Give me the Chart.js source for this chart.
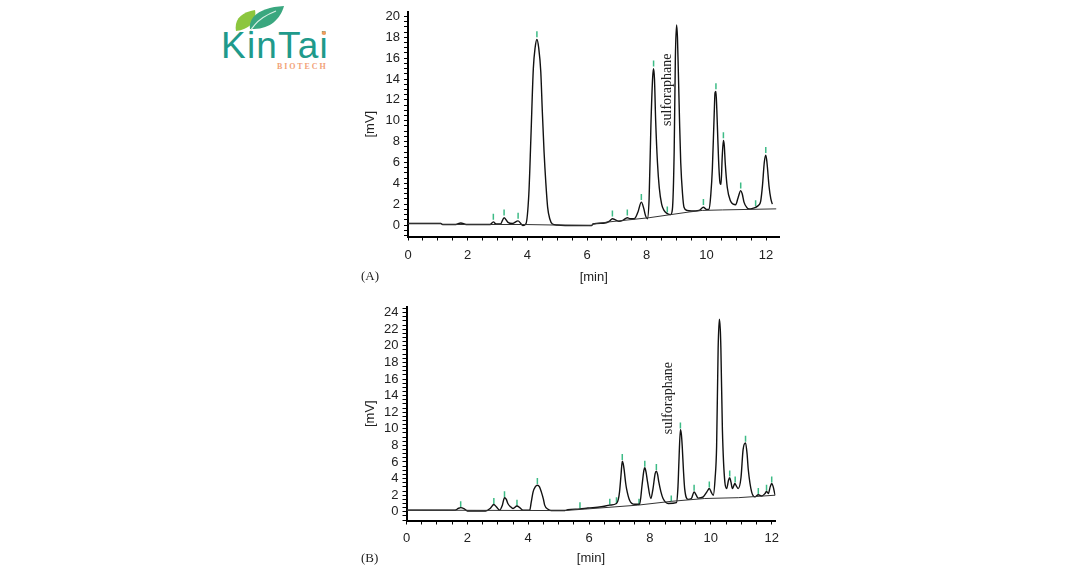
<!DOCTYPE html>
<html>
<head>
<meta charset="utf-8">
<script src="https://cdn.jsdelivr.net/npm/chart.js@4.4.1/dist/chart.umd.min.js"></script>
<style>
  html, body { margin: 0; padding: 0; background: #fff; }
  #page { position: relative; width: 1080px; height: 567px; overflow: hidden; }
  .box { position: absolute; left: 355px; width: 430px; }
  #boxA { top: 0; height: 290px; }
  #boxB { top: 295px; height: 272px; }
  .tag { position: absolute; left: 361px; font: 13px "Liberation Serif", serif; color: #222; }
  #logo { position: absolute; left: 218px; top: 4px; width: 130px; height: 72px; }
  #logo .name { position: absolute; left: 3px; top: 21px; font: 37px "Liberation Sans", Arial, sans-serif; color: #1f9a8b; letter-spacing: 1.2px; }
  #logo .sub { position: absolute; left: 59px; top: 58px; font: bold 8px "Liberation Serif", serif; color: #f2a277; letter-spacing: 1.9px; }
  #logo .dot { position: absolute; left: 104px; top: 27px; width: 4px; height: 4px; border-radius: 2px; background: #f39a5b; }
</style>
</head>
<body>
<div id="page">
  <div id="logo">
    <svg width="70" height="32" style="position:absolute;left:16px;top:0">
      <path d="M2 27 C0 16 7 8 21 6 C23 16 17 25 2 27 Z" fill="#8cc63e"/>
      <path d="M16 25 C14 12 28 3 50 2 C46 16 35 26 16 25 Z" fill="#3aa77f"/>
      <path d="M15 30 C19 20 29 12 42 7" stroke="#d8efe4" stroke-width="1.2" fill="none"/>
    </svg>
    <div class="name">KinTai</div>
    <div class="dot"></div>
    <div class="sub">BIOTECH</div>
  </div>
  <div class="box" id="boxA"><canvas id="chartA"></canvas></div>
  <div class="box" id="boxB"><canvas id="chartB"></canvas></div>
  <div class="tag" style="top:268px">(A)</div>
  <div class="tag" style="top:550px">(B)</div>
</div>
<script>
/* ---------- data: chromatogram A ---------- */
const timeA = [0, 1.1, 1.16, 1.6, 1.77, 1.95, 2.75, 2.86, 2.95, 3.1, 3.22, 3.35, 3.5, 3.69, 3.85, 3.95,
  4.05, 4.12, 4.2, 4.26, 4.32, 4.38, 4.45, 4.5, 4.56, 4.62, 4.68, 4.75, 4.84, 5.0, 5.6, 6.15, 6.2,
  6.6, 6.74, 6.85, 6.95, 7.07, 7.2, 7.35, 7.45, 7.58, 7.7, 7.82, 7.9, 7.96, 8.02, 8.08, 8.14, 8.2,
  8.23, 8.26, 8.3, 8.36, 8.42, 8.5, 8.58, 8.69, 8.8, 8.86, 8.92, 8.96, 9.0, 9.03, 9.06, 9.1, 9.14,
  9.2, 9.25, 9.35, 9.5, 9.75, 9.9, 10.0, 10.09, 10.15, 10.2, 10.26, 10.29, 10.32, 10.35, 10.38,
  10.42, 10.46, 10.49, 10.53, 10.57, 10.6, 10.63, 10.7, 10.81, 10.9, 10.98, 11.06, 11.15, 11.2,
  11.26, 11.35, 11.43, 11.55, 11.65, 11.75, 11.82, 11.88, 11.94, 11.99, 12.03, 12.1, 12.16, 12.21];
const signalA = [0.15, 0.15, 0.05, 0.05, 0.2, 0.05, 0.05, 0.3, 0.1, 0.1, 0.7, 0.25, 0.15, 0.4, -0.05, 0.1,
  3.0, 8.5, 15.0, 17.0, 17.8, 17.0, 14.7, 11.0, 7.0, 4.0, 1.7, 0.6, 0.1, 0.0, -0.05, -0.05, 0.1,
  0.2, 0.35, 0.6, 0.5, 0.35, 0.45, 0.7, 0.6, 0.6, 1.2, 2.2, 1.6, 0.9, 0.6, 2.5, 9.5, 14.2,
  15.0, 14.0, 10.0, 6.0, 3.6, 2.0, 1.4, 1.1, 1.0, 1.5, 7.0, 16.0, 19.2, 18.0, 14.7, 10.0, 6.0,
  3.0, 1.7, 1.4, 1.35, 1.4, 1.7, 1.5, 1.5, 3.0, 5.4, 10.5, 12.7, 12.8, 11.0, 8.5,
  5.5, 4.0, 3.9, 6.5, 8.1, 7.6, 6.0, 3.6, 2.3, 2.0, 1.95, 2.6, 3.3, 3.0,
  2.2, 1.7, 1.55, 1.6, 1.7, 1.9, 2.3, 3.8, 6.0, 6.7, 6.0, 3.7, 2.5, 2.0];
const baseTimeA = [0, 1.1, 1.16, 3.9, 4.9, 6.15, 6.2, 6.74, 8.08, 9.42, 9.86, 10.54, 12.34];
const baseValA = [0.15, 0.15, 0.05, 0.05, 0.0, -0.05, 0.1, 0.3, 0.7, 1.25, 1.4, 1.45, 1.55];
const markTimeA = [2.86, 3.22, 3.69, 4.32, 6.85, 7.35, 7.82, 8.23, 8.69, 9.9, 10.32, 10.57, 11.15, 11.65, 11.99];
const markValA = [0.8, 1.2, 0.9, 18.3, 1.1, 1.2, 2.7, 15.5, 1.5, 2.2, 13.3, 8.6, 3.8, 2.1, 7.2];
const ticksA = [0, 2, 4, 6, 8, 10, 12];
const yTicksA = [0, 2, 4, 6, 8, 10, 12, 14, 16, 18, 20];

/* ---------- data: chromatogram B ---------- */
const timeB = [0, 1.6, 1.7, 1.78, 1.9, 2.0, 2.6, 2.75, 2.87, 2.95, 3.06, 3.15, 3.22, 3.28, 3.33, 3.42,
  3.5, 3.63, 3.72, 3.83, 4.05, 4.1, 4.16, 4.23, 4.3, 4.37, 4.43, 4.5, 4.54, 4.65, 4.75, 5.2, 5.3,
  5.7, 5.96, 6.4, 6.68, 6.9, 6.96, 7.0, 7.05, 7.09, 7.12, 7.15, 7.2, 7.23, 7.33, 7.5, 7.66, 7.74,
  7.8, 7.83, 7.87, 7.92, 8.03, 8.1, 8.17, 8.21, 8.25, 8.29, 8.36, 8.43, 8.6, 8.87, 8.92, 8.95, 9.0,
  9.03, 9.06, 9.1, 9.14, 9.25, 9.36, 9.45, 9.52, 9.58, 9.75, 9.87, 9.95, 10.02, 10.08, 10.14, 10.19,
  10.24, 10.28, 10.31, 10.33, 10.38, 10.46, 10.52, 10.58, 10.62, 10.66, 10.71, 10.76, 10.79, 10.84,
  10.9, 10.99, 11.06, 11.14, 11.19, 11.23, 11.34, 11.45, 11.56, 11.67, 11.78, 11.83, 11.89, 11.95,
  12.0, 12.05, 12.1, 12.12];
const signalB = [0.2, 0.2, 0.4, 0.5, 0.35, 0.1, 0.1, 0.4, 0.87, 0.6, 0.2, 0.8, 1.7, 1.5, 1.0, 0.6,
  0.4, 0.7, 0.5, 0.2, 0.2, 1.2, 2.4, 3.0, 3.2, 3.0, 2.4, 1.5, 0.8, 0.3, 0.15, 0.15, 0.25,
  0.35, 0.45, 0.6, 0.8, 1.0, 1.5, 2.4, 4.5, 6.1, 5.8, 5.1, 3.5, 2.8, 1.4, 0.9, 0.9, 3.2,
  5.0, 5.3, 4.8, 3.6, 1.6, 2.8, 4.6, 4.9, 4.5, 3.6, 2.4, 1.6, 1.0, 1.1, 3.0, 5.9, 9.9,
  9.4, 7.9, 5.0, 2.8, 1.5, 1.6, 2.4, 2.0, 1.65, 1.8, 2.4, 2.8, 2.3, 2.0, 4.0, 7.9,
  19.7, 23.2, 22.0, 19.7, 9.9, 3.6, 2.8, 3.8, 4.1, 3.6, 2.8, 3.2, 3.4, 3.1,
  2.8, 4.1, 7.5, 8.3, 7.0, 5.1, 2.4, 1.8, 2.05, 1.9, 2.2, 2.45, 2.2, 3.0,
  3.4, 3.0, 2.2, 2.0];
const baseTimeB = [0, 4.75, 5.2, 5.96, 7.6, 8.7, 9.8, 10.9, 12.12];
const baseValB = [0.2, 0.15, 0.15, 0.35, 0.8, 1.26, 1.6, 1.7, 2.0];
const markTimeB = [1.78, 2.87, 3.22, 3.63, 4.3, 5.7, 6.68, 6.9, 7.09, 7.64, 7.83, 8.21, 8.7, 9.0, 9.45, 9.95, 10.62, 10.8, 11.14, 11.56, 11.83, 12.0];
const markValB = [0.9, 1.3, 2.1, 1.1, 3.7, 0.8, 1.2, 1.4, 6.6, 1.2, 5.8, 5.4, 1.6, 10.4, 2.9, 3.3, 4.6, 3.9, 8.8, 2.5, 2.9, 3.9];
const ticksB = [0, 2, 4, 6, 8, 10, 12];
const yTicksB = [0, 2, 4, 6, 8, 10, 12, 14, 16, 18, 20, 22, 24];

// where the "sulforaphane" label sits (data units)
const labelA = { t: 8.7, v: 12.97 };
const labelB = { t: 8.61, v: 13.7 };

const pts = (xs, ys) => xs.map((x, i) => ({ x, y: ys[i] }));
// tick values come back as floats, match them loosely
const showLabel = (list, v) => list.find(t => Math.abs(t - v) < 1e-6);

/* ---------- shared chart builder ---------- */
function buildChart(id, cfg) {
  const ctx = document.getElementById(id).getContext("2d");
  const axisFont = { family: "'Liberation Sans', Arial, sans-serif", size: 13 };

  const labelPlugin = {
    id: "peakLabel",
    afterDatasetsDraw(chart) {
      const c = chart.ctx;
      const x = chart.scales.x.getPixelForValue(cfg.label.t);
      const y = chart.scales.y.getPixelForValue(cfg.label.v);
      c.save();
      c.translate(x, y);
      c.rotate(-Math.PI / 2);
      c.font = "14px 'Liberation Serif', serif";
      c.fillStyle = "#222";
      c.textAlign = "center";
      c.textBaseline = "middle";
      c.fillText("sulforaphane", 0, 0);
      c.restore();
    },
  };

  return new Chart(ctx, {
    type: "line",
    data: {
      datasets: [
        {
          label: "baseline",
          data: pts(cfg.baseT, cfg.baseV),
          borderColor: "#333",
          borderWidth: 1,
          pointRadius: 0,
          tension: 0,
        },
        {
          label: "signal",
          data: pts(cfg.t, cfg.v),
          borderColor: "#111",
          borderWidth: 1.4,
          pointRadius: 0,
          cubicInterpolationMode: "monotone",
        },
        {
          label: "peaks",
          type: "scatter",
          data: pts(cfg.markT, cfg.markV),
          pointStyle: "line",
          rotation: 90,
          pointRadius: 3,
          borderColor: "#3dbb86",
          borderWidth: 1.5,
        },
      ],
    },
    options: {
      responsive: true,
      maintainAspectRatio: false,
      animation: false,
      layout: { padding: { top: cfg.padTop, right: cfg.padRight, left: 0, bottom: 0 } },
      plugins: { legend: { display: false }, tooltip: { enabled: false } },
      scales: {
        x: {
          type: "linear",
          min: 0,
          max: cfg.xMax,
          afterFit: s => { s.height = cfg.xAxisH; },
          border: { display: true, color: "#000", width: 2 },
          grid: { drawOnChartArea: false, drawTicks: true, tickLength: 4, color: "#000" },
          ticks: {
            stepSize: 0.5,
            includeBounds: false,
            autoSkip: false,
            maxRotation: 0,
            padding: cfg.xTickPad,
            color: "#222",
            font: axisFont,
            callback: v => (showLabel(cfg.xTicks, v) !== undefined ? Math.round(v) : ""),
          },
          title: { display: true, text: "[min]", color: "#222", font: axisFont, padding: { top: 0, bottom: cfg.titlePad } },
        },
        y: {
          min: cfg.yMin,
          max: cfg.yMax,
          afterFit: s => { s.width = cfg.yAxisW; },
          border: { display: true, color: "#000", width: 2 },
          grid: { drawOnChartArea: false, drawTicks: true, tickLength: 4, color: "#000" },
          ticks: {
            stepSize: 0.5,
            includeBounds: false,
            autoSkip: false,
            padding: 4,
            color: "#222",
            font: axisFont,
            callback: v => (showLabel(cfg.yTicks, v) !== undefined ? Math.round(v) : ""),
          },
          title: { display: true, text: "[mV]", color: "#222", font: axisFont, padding: { top: 8, bottom: 0 } },
        },
      },
    },
    plugins: [labelPlugin],
  });
}

buildChart("chartA", {
  t: timeA, v: signalA, baseT: baseTimeA, baseV: baseValA, markT: markTimeA, markV: markValA,
  xTicks: ticksA, yTicks: yTicksA, label: labelA,
  xMax: 12.45, yMin: -1.1, yMax: 20.45,
  padTop: 5.8, padRight: 5, xAxisH: 53.5, yAxisW: 53, titlePad: 5, xTickPad: 7,
});

buildChart("chartB", {
  t: timeB, v: signalB, baseT: baseTimeB, baseV: baseValB, markT: markTimeB, markV: markValB,
  xTicks: ticksB, yTicks: yTicksB, label: labelB,
  xMax: 12.12, yMin: -1.05, yMax: 24.7,
  padTop: 9.2, padRight: 6.7, xAxisH: 46.5, yAxisW: 51.5, titlePad: 1, xTickPad: 6,
});
</script>
</body>
</html>
